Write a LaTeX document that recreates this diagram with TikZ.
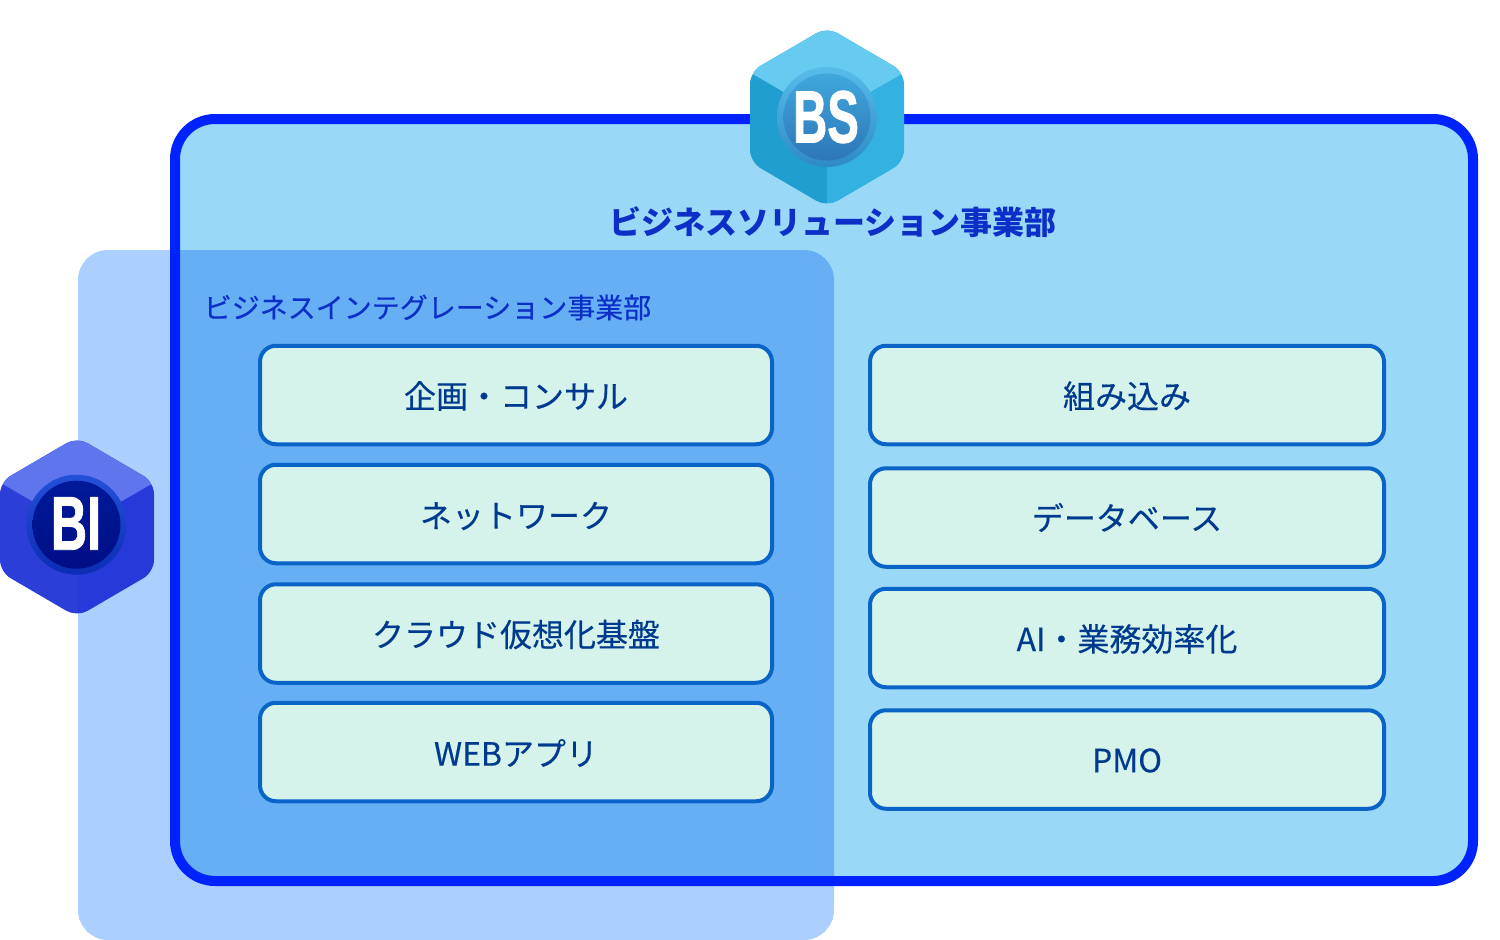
\documentclass[tikz,border=0pt]{standalone}
\usepackage{fontspec}
\usepackage{graphicx}
\setmainfont{Noto Sans CJK JP}[FakeBold=0.4,BoldFeatures={FakeBold=0}]
\newfontfamily\logofont{Liberation Sans}[FakeBold=1.2,BoldFeatures={FakeBold=1.2}]
\definecolor{bsfill}{HTML}{9AD8F8}
\definecolor{bsline}{HTML}{0022FF}
\definecolor{bifill}{HTML}{ABCFFF}
\definecolor{overlap}{HTML}{66AFF5}
\definecolor{itemfill}{HTML}{D6F3EB}
\definecolor{itemline}{HTML}{0A64C8}
\definecolor{itemtext}{HTML}{003A8E}
\definecolor{titletext}{HTML}{0C2FC8}
\definecolor{bstop}{HTML}{66CAF1}
\definecolor{bsleft}{HTML}{1F9ECF}
\definecolor{bsright}{HTML}{33B2E2}
\definecolor{bitop}{HTML}{5F75EE}
\definecolor{bileft}{HTML}{2B3FD8}
\definecolor{biright}{HTML}{2639D9}
\definecolor{HexA}{HTML}{58BCEA}
\definecolor{HexB}{HTML}{2C96CE}
\definecolor{HexC}{HTML}{2E8AC4}
\definecolor{HexD}{HTML}{3FA8DC}
\definecolor{HexE}{HTML}{2E84C0}
\definecolor{HexF}{HTML}{2E76B8}
\definecolor{HexG}{HTML}{2450D8}
\definecolor{HexH}{HTML}{0A2DB4}
\definecolor{HexI}{HTML}{001A9A}
\definecolor{HexJ}{HTML}{000E85}
\tikzset{
  itembox/.style={draw=itemline,line width=4pt,fill=itemfill,rounded corners=16pt,text=itemtext,
    font=\fontsize{32}{38}\selectfont,inner sep=0pt,anchor=center,minimum height=98.5pt},
  leftitem/.style={itembox,minimum width=512pt},
  rightitem/.style={itembox,minimum width=514pt},
  title/.style={text=titletext,inner sep=0pt,anchor=center},
  logotext/.style={text=white,inner sep=0pt,anchor=center,
    font=\logofont\bfseries\fontsize{74}{74}\selectfont},
  bsring/.style={top color=HexA,middle color=HexB,bottom color=HexC},
  bsinner/.style={top color=HexD,middle color=HexE,bottom color=HexF},
  biring/.style={top color=HexG,bottom color=HexH},
  biinner/.style={top color=HexI,bottom color=HexJ},
}
\newcommand{\lowered}[2]{\raisebox{-#1pt}[\height][\depth]{#2}}
\newcommand{\hexbody}[5]{%
  \begin{scope}[shift={(#1,#2)}]
    \clip[rounded corners=12pt] (0,-90) -- (77,-45) -- (77,45) -- (0,90) -- (-77,45) -- (-77,-45) -- cycle;
    \fill[#4] (-80,-95) rectangle (0,95);
    \fill[#5] (0,-95) rectangle (80,95);
    \fill[#3] (0,0) -- (-80,-46.2) -- (-80,-95) -- (80,-95) -- (80,-46.2) -- cycle;
  \end{scope}%
}
\begin{document}
\begin{tikzpicture}[x=1pt,y=-1pt]
\useasboundingbox (0,0) rectangle (1500,940);
\fill[bsfill,rounded corners=40pt] (175,119) rectangle (1473,881);
\fill[bifill,rounded corners=30pt] (78,250) rectangle (834,940);
\begin{scope}
  \clip[rounded corners=40pt] (175,119) rectangle (1473,881);
  \fill[overlap,rounded corners=30pt] (78,250) rectangle (834,940);
\end{scope}
\draw[bsline,line width=10pt,rounded corners=40pt] (175,119) rectangle (1473,881);
\hexbody{827}{117}{bstop}{bsleft}{bsright}
\shade[bsring] (827,117) circle[radius=50];
\shade[bsinner] (827,117) circle[radius=43.5];
\hexbody{77}{527}{bitop}{bileft}{biright}
\shade[biring] (76.5,524.7) circle[radius=50];
\shade[biinner] (76.5,524.7) circle[radius=44];
\node[logotext] (bslogo) at (826,117) {\scalebox{0.64}[1]{BS}};
\node[logotext] (bilogo) at (76,523.5) {\scalebox{0.68}[1.03]{BI}};
\node[title,font=\bfseries\fontsize{32}{38}\selectfont] (bstitle) at (833,222) {ビジネスソリューション事業部};
\node[title,font=\fontsize{28}{34}\selectfont] (bititle) at (427.5,307.5) {ビジネスインテグレーション事業部};
\node[leftitem] (l1) at (516,395) {\lowered{1}{企画・コンサル}};
\node[leftitem] (l2) at (516,514) {\lowered{2}{ネットワーク}};
\node[leftitem] (l3) at (516,633.5) {\lowered{1}{クラウド仮想化基盤}};
\node[leftitem] (l4) at (516,752) {\lowered{1}{WEBアプリ}};
\node[rightitem] (r1) at (1127,395) {\lowered{1}{組み込み}};
\node[rightitem] (r2) at (1127,517.5) {データベース};
\node[rightitem] (r3) at (1127,638) {\lowered{1}{AI・業務効率化}};
\node[rightitem] (r4) at (1127,759.5) {\lowered{1}{PMO}};
\end{tikzpicture}
\end{document}
